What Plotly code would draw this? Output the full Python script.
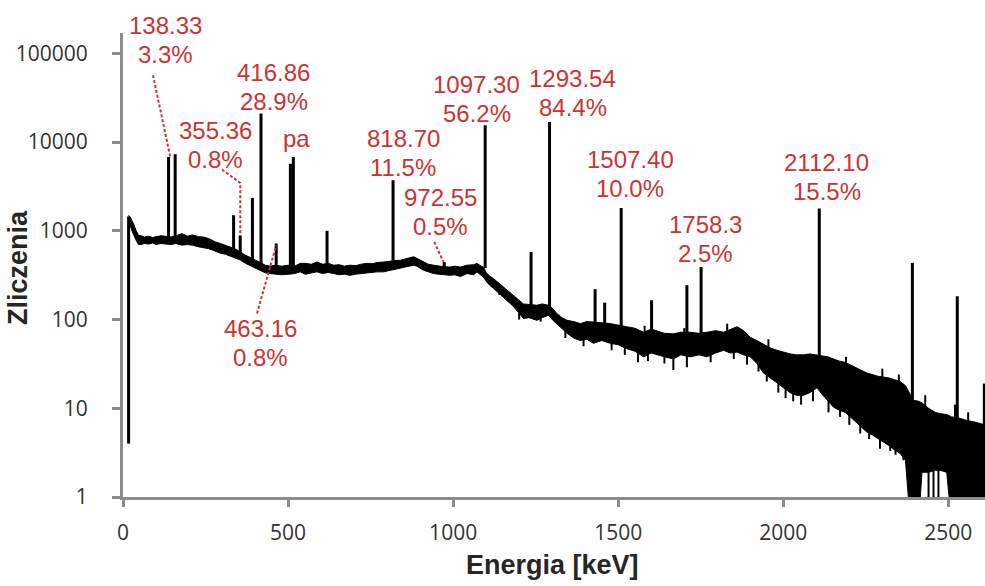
import plotly.graph_objects as go

# ---------------- data ----------------
# continuum band: energy [keV], upper and lower edge of the noisy band [counts]
band_E = [17, 22, 27, 32, 40, 47, 55, 65, 78, 90, 100, 115, 128, 145, 160, 179, 195, 210, 229, 245,
          259, 270, 280, 295, 310, 325, 340, 355, 371, 386, 401, 416, 431, 446, 461, 480, 502, 520, 537, 552,
          570, 587, 605, 622, 638, 655, 670, 688, 705, 720, 739, 755, 770, 789, 805, 820, 840, 855, 870, 880,
          890, 900, 910, 925, 941, 955, 970, 991, 1005, 1022, 1042, 1062, 1072, 1085, 1092, 1100, 1110, 1122, 1137, 1153,
          1168, 1183, 1198, 1213, 1230, 1254, 1270, 1289, 1300, 1314, 1330, 1345, 1365, 1385, 1405, 1425, 1450, 1476, 1500, 1526,
          1550, 1577, 1600, 1617, 1640, 1667, 1690, 1718, 1745, 1769, 1795, 1819, 1840, 1860, 1880, 1900, 1920, 1940, 1960, 1981,
          2000, 2021, 2040, 2061, 2080, 2102, 2120, 2135, 2152, 2170, 2187, 2203, 2220, 2236, 2253, 2270, 2286, 2303, 2320, 2337,
          2354, 2370, 2385, 2394, 2410, 2420, 2440, 2460, 2475, 2495, 2510, 2530, 2556, 2580, 2611]
band_hi = [1500, 1430, 1300, 1200, 1000, 890, 880, 850, 870, 840, 860, 880, 870, 850, 880, 930, 870, 900, 860, 850,
           820, 780, 750, 720, 690, 660, 625, 580, 530, 500, 466, 440, 410, 400, 410, 400, 410, 400, 430, 430,
           420, 445, 420, 430, 410, 415, 400, 410, 405, 420, 430, 425, 440, 445, 455, 460, 466, 480, 500, 510,
           490, 470, 445, 420, 410, 400, 395, 390, 400, 390, 410, 415, 430, 400, 390, 340, 310, 290, 260, 233,
           210, 188, 165, 150, 148, 145, 150, 145, 135, 117, 105, 98, 95, 90, 95, 93, 92, 90, 86, 83,
           80, 72, 78, 74, 70, 69, 72, 72, 70, 72, 75, 72, 78, 83, 75, 63, 58, 53, 48, 45,
           43, 41, 40, 40, 41, 40, 39, 38, 36, 34, 33, 31, 29, 27, 25, 24, 23, 22.5, 22, 21,
           20, 18, 14, 12.3, 12, 11.5, 10, 9, 8.7, 8.5, 8, 7.8, 7.3, 7, 6.5]
band_lo = [1250, 1150, 1000, 900, 780, 700, 700, 720, 710, 730, 700, 720, 710, 700, 720, 690, 700, 690, 660, 650,
           630, 610, 585, 560, 545, 520, 490, 470, 430, 405, 386, 360, 336, 330, 324, 320, 324, 330, 345, 324,
           335, 345, 330, 340, 330, 320, 325, 315, 325, 330, 330, 340, 345, 345, 355, 365, 375, 385, 400, 410,
           400, 380, 360, 345, 330, 325, 320, 315, 320, 305, 330, 320, 345, 310, 300, 270, 245, 225, 200, 180,
           160, 140, 120, 103, 105, 98, 105, 112, 100, 90, 78, 70, 62, 58, 60, 54, 58, 54, 52, 47,
           44, 38, 42, 40, 38, 36, 40, 38, 40, 38, 42, 45, 42, 43, 40, 38, 32, 25, 22, 19,
           17, 15, 14, 14, 15, 17, 14, 12, 10.3, 9.5, 9, 8, 7, 6.2, 5.4, 5, 4.6, 4.2, 3.8, 3.4,
           3.1, 2.6, 0.5, 0.5, 0.5, 1.9, 1.9, 2.0, 2.0, 1.9, 0.5, 0.5, 0.5, 0.5, 0.5]

# short noise strokes around the band (downward dips and upward spikes): energy, bottom, top [counts]
noise_E = [1140, 1200, 1265, 1340, 1395, 1480, 1520, 1560, 1590, 1640, 1667, 1708, 1780, 1850, 1890,
           1925, 1950, 1985, 2007, 2030, 2054, 2090, 2137, 2172, 2200, 2233, 2260, 2293, 2324, 2340,
           2364, 2380, 2440, 2455, 2470,
           1580, 1700, 1830, 1955, 2190, 2300, 2350, 2430, 2520, 2560]
noise_lo = [190, 100, 95, 62, 50, 45, 40, 33, 34, 32, 27, 29, 33, 36, 31,
            26, 20, 15, 13, 12, 11, 12, 9, 8, 6.5, 5.2, 4.5, 3.5, 3.3, 3.0,
            2.6, 2.2, 0.5, 0.5, 0.5,
            60, 60, 70, 40, 25, 18, 15, 8, 6, 5]
noise_hi = [240, 130, 120, 80, 70, 65, 55, 50, 50, 48, 50, 50, 50, 50, 50,
            45, 40, 30, 28, 25, 25, 24, 20, 18, 15, 12, 11, 10, 9, 8,
            8, 7, 5, 5, 5,
            85, 80, 90, 60, 38, 28, 24, 14, 11, 9]

# gamma lines: energy [keV], peak top and peak base [counts]
peak_E = [17, 138, 158, 335, 355, 392, 418, 464, 507, 516, 618, 818, 973, 1097, 1236, 1292,
          1430, 1459, 1509, 1601, 1708, 1751, 2109, 2391, 2527, 2609]
peak_top = [1450, 6800, 7300, 1500, 890, 2350, 21000, 720, 5700, 6800, 1000, 3720, 446, 15500, 578, 16900,
            220, 155, 1810, 165, 244, 392, 1785, 435, 183, 19]
peak_base = [4, 780, 780, 560, 520, 460, 400, 370, 370, 370, 380, 420, 380, 380, 120, 125,
             72, 70, 62, 55, 55, 55, 25, 10, 6, 6]

# labels: energy line, intensity line, centre energy, centre log10(counts)
label_line1 = ["138.33", "355.36", "416.86", "pa", "818.70", "972.55", "1097.30", "1293.54",
               "1507.40", "1758.3", "2112.10", "463.16"]
label_line2 = ["3.3%", "0.8%", "28.9%", "", "11.5%", "0.5%", "56.2%", "84.4%",
               "10.0%", "2.5%", "15.5%", "0.8%"]
label_E = [129.6, 279.5, 456.7, 524.8, 848.8, 961, 1072, 1362, 1536, 1763, 2132, 415.8]
label_logy = [5.149, 3.968, 4.625, 4.044, 3.880, 3.218, 4.489, 4.551, 3.636, 2.909, 3.608, 1.733]

# dashed leader lines (energy, counts)
leader_E = [[90.9, 143.2], [299.8, 355.2, 355.2], [405.8, 464.3], [942.8, 970.9]]
leader_C = [[56800, 6810], [4910, 3470, 933], [117, 688], [750, 446]]

x_ticks = [0, 500, 1000, 1500, 2000, 2500]
y_ticks = [1, 10, 100, 1000, 10000, 100000]

# ---------------- figure ----------------
RED = "#cc3333"
AXIS = "#8c8c8c"

fig = go.Figure()

fig.add_trace(go.Scatter(x=band_E, y=band_lo, mode="lines",
                         line=dict(color="black", width=1), hoverinfo="skip", showlegend=False))
fig.add_trace(go.Scatter(x=band_E, y=band_hi, mode="lines", fill="tonexty", fillcolor="black",
                         line=dict(color="black", width=1), hoverinfo="skip", showlegend=False))

dx, dy = [], []
for e, lo, hi in zip(noise_E, noise_lo, noise_hi):
    dx += [e, e, None]
    dy += [lo, hi, None]
fig.add_trace(go.Scatter(x=dx, y=dy, mode="lines", line=dict(color="black", width=2),
                         hoverinfo="skip", showlegend=False))

px_, py_ = [], []
for e, t, b in zip(peak_E, peak_top, peak_base):
    px_ += [e, e, None]
    py_ += [b, t, None]
fig.add_trace(go.Scatter(x=px_, y=py_, mode="lines", line=dict(color="black", width=3),
                         hoverinfo="skip", showlegend=False))

for le, lc in zip(leader_E, leader_C):
    fig.add_trace(go.Scatter(x=le, y=lc, mode="lines",
                             line=dict(color=RED, width=2, dash="3px,2px"),
                             hoverinfo="skip", showlegend=False))

LFONT = dict(family="Liberation Sans, Arial", size=24, color=RED)
annotations = []
for l1, l2, e, ly in zip(label_line1, label_line2, label_E, label_logy):
    if l2:
        annotations.append(dict(x=e, y=ly, xref="x", yref="y", text=l1, showarrow=False,
                                xanchor="center", yanchor="middle", yshift=14.5, font=LFONT))
        annotations.append(dict(x=e, y=ly, xref="x", yref="y", text=l2, showarrow=False,
                                xanchor="center", yanchor="middle", yshift=-14.5, font=LFONT))
    else:
        annotations.append(dict(x=e, y=ly, xref="x", yref="y", text=l1, showarrow=False,
                                xanchor="center", yanchor="middle", font=LFONT))

annotations.append(dict(x=-0.1218, y=0.4935, xref="paper", yref="paper", text="<b>Zliczenia</b>",
                        textangle=-90, showarrow=False, xanchor="center", yanchor="middle",
                        font=dict(family="Liberation Sans, Arial", size=27, color="#262626")))
annotations.append(dict(x=0.4988, y=-0.1466, xref="paper", yref="paper", text="<b>Energia [keV]</b>",
                        showarrow=False, xanchor="center", yanchor="middle",
                        font=dict(family="Liberation Sans, Arial", size=27, color="#262626")))

fig.update_layout(
    width=985, height=586,
    margin=dict(l=123, r=0, t=33, b=89),
    paper_bgcolor="white", plot_bgcolor="white",
    showlegend=False,
    annotations=annotations,
    xaxis=dict(range=[0, 2611], tickvals=x_ticks, ticktext=[str(v) for v in x_ticks],
               showgrid=False, zeroline=False, showline=True, linecolor=AXIS, linewidth=3,
               ticks="outside", ticklen=7, tickwidth=3, tickcolor=AXIS,
               tickfont=dict(family="Open Sans", size=21, color="#333333"),
               ticklabelstandoff=8),
    yaxis=dict(type="log", range=[0, 5.23], tickvals=y_ticks, ticktext=[str(v) for v in y_ticks],
               showgrid=False, zeroline=False, showline=True, linecolor=AXIS, linewidth=3,
               ticks="outside", ticklen=8, tickwidth=3, tickcolor=AXIS,
               tickfont=dict(family="Open Sans", size=21, color="#333333"),
               ticklabelstandoff=20),
)

fig.write_html("out.html")
